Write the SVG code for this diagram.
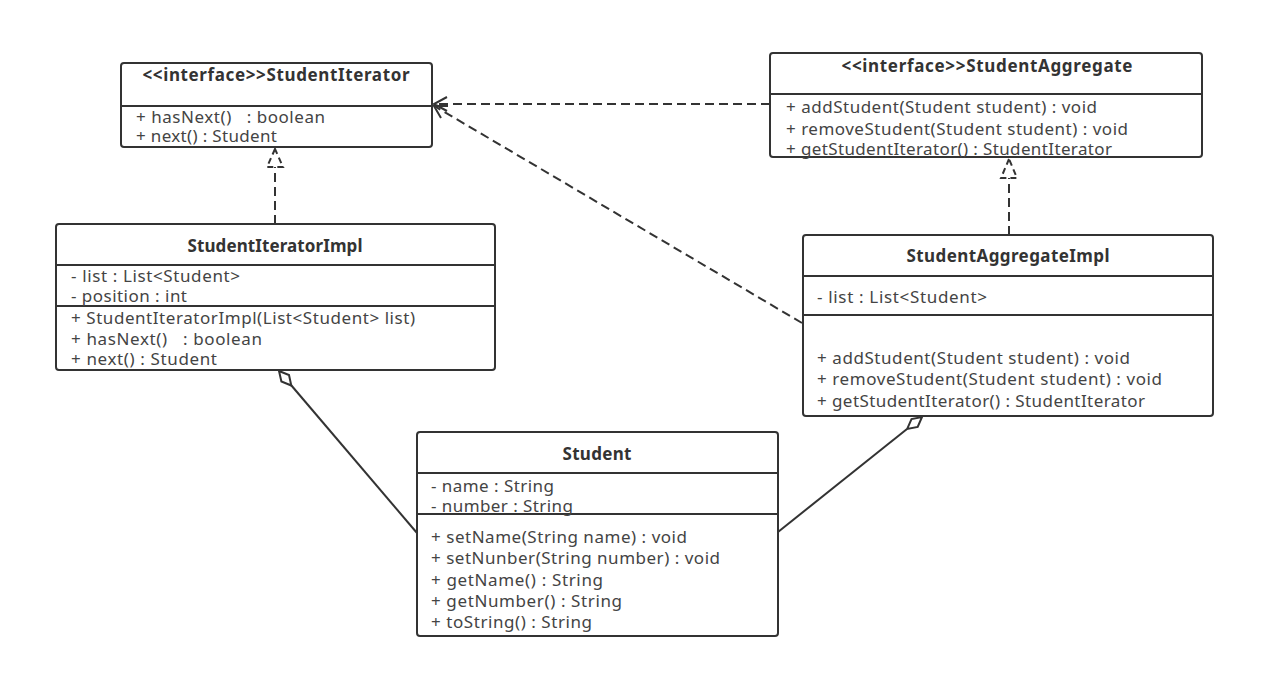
<svg xmlns="http://www.w3.org/2000/svg" width="1276" height="696" viewBox="0 0 1276 696">
<style>
.box{fill:#fff;stroke:#333;stroke-width:2}
.sep{stroke:#333;stroke-width:2}
.t{font-family:"Noto Sans","Open Sans",sans-serif;font-size:17px;fill:#444}
.h{font-family:"Noto Sans","Open Sans",sans-serif;font-size:17px;font-weight:bold;fill:#333;text-anchor:middle}
.dash{fill:none;stroke:#333;stroke-width:2;stroke-dasharray:9 5}
.tri{fill:#fff;stroke:#333;stroke-width:2;stroke-dasharray:6 4}
.head{fill:none;stroke:#333;stroke-width:2}
.solid{fill:none;stroke:#333;stroke-width:2}
.dia{fill:#fff;stroke:#333;stroke-width:2;stroke-linejoin:miter}
</style>
<rect width="1276" height="696" fill="#fff"/>
<g id="connectors">
<line class="dash" x1="770" y1="104" x2="435" y2="104"/>
<path class="head" d="M447 97 L434 104 L447 111"/>
<line class="dash" x1="802" y1="323" x2="436" y2="107"/>
<path class="head" d="M441 118 L434 106 L448 106"/>
<line class="dash" x1="275" y1="224" x2="275" y2="167"/>
<path class="tri" d="M275 149 L267 167 L283 167 Z"/>
<line class="dash" x1="1009" y1="235" x2="1009" y2="178"/>
<path class="tri" d="M1009 159 L1001 178 L1017 178 Z"/>
<line class="solid" x1="291" y1="385" x2="417" y2="533"/>
<path class="dia" d="M279 371 L289 375 L291.3 385.5 L281.4 381.4 Z"/>
<line class="solid" x1="907" y1="429" x2="778" y2="532"/>
<path class="dia" d="M922 417 L917.7 426.9 L907.2 428.9 L911.5 419.1 Z"/>
</g>
<g id="StudentIterator">
<rect class="box" x="121" y="63" width="311" height="84" rx="3"/>
<line class="sep" x1="121" y1="106" x2="432" y2="106"/>
<text class="h" x="276" y="81" textLength="267">&lt;&lt;interface&gt;&gt;StudentIterator</text>
<text class="t" x="136" y="123" textLength="189" xml:space="preserve">+ hasNext()   : boolean</text>
<text class="t" x="136" y="142" textLength="141">+ next() : Student</text>
</g>
<g id="StudentAggregate">
<rect class="box" x="770" y="53" width="432" height="104" rx="3"/>
<line class="sep" x1="770" y1="94" x2="1202" y2="94"/>
<text class="h" x="987" y="72" textLength="291">&lt;&lt;interface&gt;&gt;StudentAggregate</text>
<text class="t" x="786" y="113" textLength="311">+ addStudent(Student student) : void</text>
<text class="t" x="786" y="135" textLength="342">+ removeStudent(Student student) : void</text>
<text class="t" x="786" y="155" textLength="326">+ getStudentIterator() : StudentIterator</text>
</g>
<g id="StudentIteratorImpl">
<rect class="box" x="56" y="224" width="439" height="146" rx="3"/>
<line class="sep" x1="56" y1="265" x2="495" y2="265"/>
<line class="sep" x1="56" y1="306" x2="495" y2="306"/>
<text class="h" x="275" y="252" textLength="175">StudentIteratorImpl</text>
<text class="t" x="71" y="282" textLength="169">- list : List&lt;Student&gt;</text>
<text class="t" x="71" y="302" textLength="116">- position : int</text>
<text class="t" x="71" y="324" textLength="344">+ StudentIteratorImpl(List&lt;Student&gt; list)</text>
<text class="t" x="71" y="345" textLength="191" xml:space="preserve">+ hasNext()   : boolean</text>
<text class="t" x="71" y="365" textLength="146">+ next() : Student</text>
</g>
<g id="StudentAggregateImpl">
<rect class="box" x="803" y="235" width="410" height="181" rx="3"/>
<line class="sep" x1="803" y1="276" x2="1213" y2="276"/>
<line class="sep" x1="803" y1="315" x2="1213" y2="315"/>
<text class="h" x="1008" y="262" textLength="203">StudentAggregateImpl</text>
<text class="t" x="817" y="303" textLength="170">- list : List&lt;Student&gt;</text>
<text class="t" x="817" y="364" textLength="313">+ addStudent(Student student) : void</text>
<text class="t" x="817" y="385" textLength="345">+ removeStudent(Student student) : void</text>
<text class="t" x="817" y="407" textLength="328">+ getStudentIterator() : StudentIterator</text>
</g>
<g id="Student">
<rect class="box" x="417" y="432" width="361" height="204" rx="3"/>
<line class="sep" x1="417" y1="473" x2="778" y2="473"/>
<line class="sep" x1="417" y1="514" x2="778" y2="514"/>
<text class="h" x="597" y="460" textLength="69">Student</text>
<text class="t" x="431" y="492" textLength="123">- name : String</text>
<text class="t" x="431" y="512" textLength="142">- number : String</text>
<text class="t" x="431" y="543" textLength="256">+ setName(String name) : void</text>
<text class="t" x="431" y="564" textLength="289">+ setNunber(String number) : void</text>
<text class="t" x="431" y="586" textLength="172">+ getName() : String</text>
<text class="t" x="431" y="607" textLength="191">+ getNumber() : String</text>
<text class="t" x="431" y="628" textLength="161">+ toString() : String</text>
</g>
</svg>
